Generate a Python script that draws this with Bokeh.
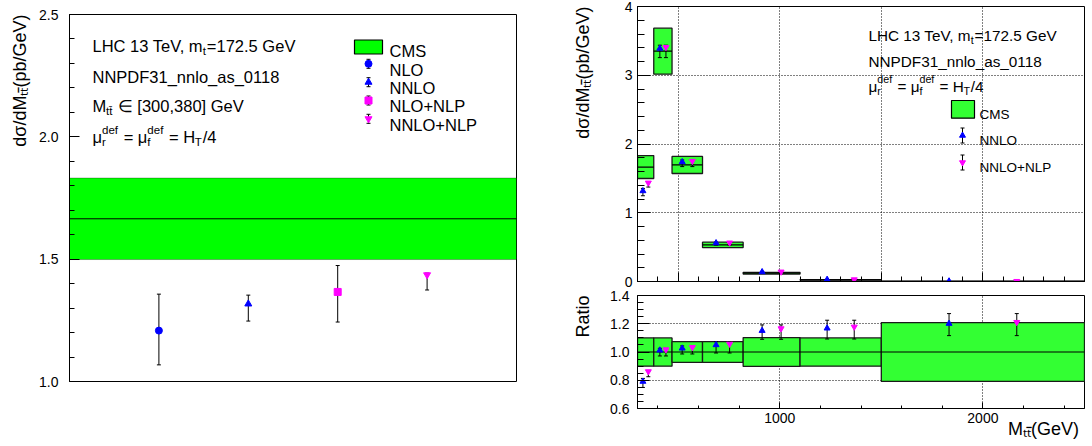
import math
from bokeh.plotting import figure
from bokeh.models import (Range1d, SingleIntervalTicker, FixedTicker, Label, Title,
                          NumeralTickFormatter, Span, BoxAnnotation, CustomJSTickFormatter)
from bokeh.layouts import row, column
from bokeh.embed import file_html
from bokeh.resources import INLINE

FONT = "Liberation Sans"
GREEN_L = "#00ff00"
GREEN_R = "#33ff33"
BLUE = "#0000ff"
MAG = "#ff00ff"
NB = "\u00a0"
TT = "\u209c\u209c\u0304"   # subscript t t-bar

# ---------------- data ----------------
# Left panel: M_tt in [300,380] GeV
left_labels = ["NLO", "NNLO", "NLO+NLP", "NNLO+NLP"]
left_pos = [1, 2, 3, 4]
left_val = [1.208, 1.317, 1.366, 1.436]
left_hi = [1.357, 1.353, 1.474, 1.443]
left_lo = [1.068, 1.247, 1.243, 1.374]
left_markers = ["circle", "triangle", "square", "inverted_triangle"]
left_colors = [BLUE, BLUE, MAG, MAG]

# Right panel: CMS bins
bin_lo = [300, 380, 470, 620, 820, 1100, 1500]
bin_hi = [380, 470, 620, 820, 1100, 1500, 2500]
cms_val = [1.665, 3.35, 1.695, 0.533, 0.121, 0.024, 0.0035]
cms_rel = [0.100, 0.100, 0.073, 0.073, 0.102, 0.100, 0.208]

nnlo_ratio = [0.791, 1.012, 1.026, 1.050, 1.151, 1.168, 1.201]
nnlo_ratio_hi = [0.813, 1.026, 1.043, 1.073, 1.192, 1.225, 1.272]
nnlo_ratio_lo = [0.749, 0.972, 0.986, 0.993, 1.090, 1.092, 1.116]
nnlonlp_ratio = [0.862, 1.017, 1.033, 1.057, 1.166, 1.178, 1.211]
nnlonlp_ratio_hi = [0.867, 1.026, 1.043, 1.073, 1.192, 1.225, 1.272]
nnlonlp_ratio_lo = [0.825, 0.972, 0.986, 0.993, 1.090, 1.092, 1.116]

ratio_xmajor = [1000, 2000]
ratio_xminor = [400, 600, 800, 1200, 1400, 1600, 1800, 2200, 2400]
ratio_ymajor = [0.6, 0.8, 1.0, 1.2, 1.4]
ratio_yminor = [0.65, 0.7, 0.75, 0.85, 0.9, 0.95, 1.05, 1.1, 1.15, 1.25, 1.3, 1.35]

# ---------------- helpers ----------------
W = {' ': 278, NB: 278, '(': 333, ')': 333, ',': 278, '.': 278, '/': 278, '=': 584, '[': 278,
     ']': 278, '_': 556, '+': 584, 'A': 667, 'C': 722, 'D': 722, 'F': 611, 'G': 778,
     'H': 722, 'L': 556, 'M': 833, 'N': 722, 'O': 778, 'P': 667, 'R': 722, 'S': 667,
     'T': 611, 'V': 667, 'a': 556, 'b': 556, 'd': 556, 'e': 556, 'f': 278, 'i': 222,
     'l': 222, 'm': 833, 'n': 556, 'o': 556, 'p': 556, 'r': 333, 's': 500, 't': 278,
     '\u03bc': 576, '\u03c3': 617, '\u2208': 713, '\u0304': 0, '\u209c': 280}
KERN = {"Te": -74, "V,": -111}


def tw(s, size):
    total = sum(W.get(ch, 556) for ch in s)
    total += sum(KERN.get(s[i:i + 2], 0) for i in range(len(s) - 1))
    return total * size / 1000.0


def add_text(p, txt, dx, dy, size, align="left"):
    p.add_layout(Label(x=p.x_range.start, y=p.y_range.end, x_offset=dx, y_offset=-dy,
                       text=txt, text_font=FONT, text_font_size=f"{size:.1f}px",
                       text_color="black", text_align=align, text_baseline="alphabetic"))


def rich(p, x0, base, pieces, size):
    cur = x0
    s = 0.7 * size
    for item in pieces:
        kind = item[0]
        if kind == "n":
            add_text(p, item[1], cur, base, size)
            cur += tw(item[1], size)
        elif kind == "sub":
            add_text(p, item[1], cur - 0.3, base + 0.3 * size, s)
            cur += tw(item[1], s) + 0.5
        else:  # stacked sub + sup
            add_text(p, item[1], cur, base + 0.3 * size, s)
            add_text(p, item[2], cur, base - 0.45 * size, s)
            cur += max(tw(item[1], s), tw(item[2], s)) + 1.0


def px2data(p, fw, fh, dx, dy):
    xr, yr = p.x_range, p.y_range
    return (xr.start + dx * (xr.end - xr.start) / fw,
            yr.end - dy * (yr.end - yr.start) / fh)


def err_bars(p, xs, lo, hi, cap=5):
    xs = list(xs)
    p.segment(x0=xs, x1=xs, y0=list(lo), y1=list(hi), line_color="black", line_width=1)
    p.scatter(x=xs + xs, y=list(lo) + list(hi), marker="dash", size=cap,
              line_color="black", line_width=1)


def style_axis(ax, size=14, standoff=6, tin=10, tmin=5):
    ax.major_tick_in = tin
    ax.major_tick_out = 0
    ax.minor_tick_in = tmin
    ax.minor_tick_out = 0
    ax.major_label_standoff = standoff
    ax.major_label_text_font = FONT
    ax.major_label_text_font_size = f"{size}px"
    ax.major_label_text_color = "black"
    ax.axis_line_color = "black"
    ax.major_tick_line_color = "black"
    ax.minor_tick_line_color = "black"


def ytitle(p, text, standoff, size=18):
    p.add_layout(Title(text=text, align="right", vertical_align="bottom", standoff=standoff,
                       offset=0, text_font=FONT, text_font_size=f"{size}px",
                       text_font_style="normal", text_color="black"), "left")


def base_fig(**kw):
    p = figure(output_backend="svg", toolbar_location=None, **kw)
    p.outline_line_color = "black"
    p.outline_line_width = 1
    p.outline_line_alpha = 1
    p.background_fill_color = "white"
    p.border_fill_color = "white"
    return p


# ---------------- left panel ----------------
p1 = base_fig(width=541, height=446, x_range=Range1d(0, 5), y_range=Range1d(1.0, 2.5),
              min_border_left=69, min_border_right=25, min_border_top=14, min_border_bottom=65)
FW1, FH1 = 447, 367
p1.xaxis.visible = False
p1.xgrid.visible = False
p1.ygrid.visible = False
p1.yaxis.ticker = SingleIntervalTicker(interval=0.5, num_minor_ticks=5)
p1.yaxis.formatter = NumeralTickFormatter(format="0.0")
style_axis(p1.yaxis[0], standoff=11, tin=10, tmin=5)
ytitle(p1, "d\u03c3/dM" + TT + "(pb/GeV)", 13)

c0 = cms_val[0]
p1.add_layout(BoxAnnotation(bottom=c0 * (1 - cms_rel[0]), top=c0 * (1 + cms_rel[0]),
                            fill_color=GREEN_L, fill_alpha=1, line_color="black",
                            line_width=1, level="underlay"))
p1.add_layout(Span(location=c0, dimension="width", line_color="black", line_width=1,
                   level="underlay"))

err_bars(p1, left_pos, left_lo, left_hi, cap=4)
for xv, yv, mk, col in zip(left_pos, left_val, left_markers, left_colors):
    p1.scatter(x=[xv], y=[yv], marker=mk, size=7, fill_color=col, line_color=col)

# texts
rich(p1, 23, 31.9, [("n", "LHC 13 TeV, m"), ("sub", "t"), ("n", "=172.5 GeV")], 16.5)
rich(p1, 23, 62.6, [("n", "NNPDF31_nnlo_as_0118")], 16.5)
rich(p1, 23, 91.9, [("n", "M"), ("sub", "tt\u0304"), ("n", NB + "\u2208 [300,380] GeV")], 16.5)
rich(p1, 23, 122.6, [("n", "\u03bc"), ("ss", "r", "def"), ("n", NB + "=" + NB + "\u03bc"),
                     ("ss", "f", "def"), ("n", NB + "=" + NB + "H"), ("sub", "T"), ("n", "/4")],
     16.5)

# legend (left)
bx0, by0 = px2data(p1, FW1, FH1, 285, 25.5)
bx1, by1 = px2data(p1, FW1, FH1, 313, 39.5)
p1.quad(left=[bx0], right=[bx1], top=[by0], bottom=[by1], fill_color=GREEN_L,
        line_color="black", line_width=1.2)
add_text(p1, "CMS", 320, 31 + 5.9, 16.5)
rows_l = [49.3, 67.7, 86.0, 104.3]
for lab, mk, col, ry in zip(left_labels, left_markers, left_colors, rows_l):
    mx, my = px2data(p1, FW1, FH1, 299, ry)
    _, ylo = px2data(p1, FW1, FH1, 299, ry + 4.5)
    _, yhi = px2data(p1, FW1, FH1, 299, ry - 4.5)
    err_bars(p1, [mx], [ylo], [yhi], cap=4)
    p1.scatter(x=[mx], y=[my], marker=mk, size=7, fill_color=col, line_color=col)
    add_text(p1, lab, 320, ry + 5.9, 16.5)

# ---------------- right top panel ----------------
p2 = base_fig(width=551, height=288, x_range=Range1d(300, 2500), y_range=Range1d(0, 4),
              min_border_left=96, min_border_right=8, min_border_top=6, min_border_bottom=7)
FW2, FH2 = 447, 275
p2.xaxis.ticker = SingleIntervalTicker(interval=500, num_minor_ticks=5)
style_axis(p2.xaxis[0], size=14, standoff=0, tin=9, tmin=5)
p2.xaxis.formatter = CustomJSTickFormatter(code="return ''")
p2.yaxis.ticker = SingleIntervalTicker(interval=1, num_minor_ticks=5)
p2.yaxis.formatter = NumeralTickFormatter(format="0")
style_axis(p2.yaxis[0], standoff=5, tin=13, tmin=7)
ytitle(p2, "d\u03c3/dM" + TT + "(pb/GeV)", 58)
for g in (p2.xgrid[0], p2.ygrid[0]):
    g.grid_line_color = "black"
    g.grid_line_dash = "1 2"
    g.grid_line_width = 1

cms_top = [c * (1 + r) for c, r in zip(cms_val, cms_rel)]
cms_bot = [c * (1 - r) for c, r in zip(cms_val, cms_rel)]
p2.quad(left=bin_lo, right=bin_hi, top=cms_top, bottom=cms_bot, fill_color=GREEN_R,
        line_color="#1a1a1a", line_width=1.3)
p2.segment(x0=bin_lo, x1=bin_hi, y0=cms_val, y1=cms_val, line_color="black", line_width=1.2)

x_nnlo = [lo + (hi - lo) / 3.0 for lo, hi in zip(bin_lo, bin_hi)]
x_nlp = [lo + 2.0 * (hi - lo) / 3.0 for lo, hi in zip(bin_lo, bin_hi)]
nnlo_v = [r * c for r, c in zip(nnlo_ratio, cms_val)]
nnlo_h = [r * c for r, c in zip(nnlo_ratio_hi, cms_val)]
nnlo_l = [r * c for r, c in zip(nnlo_ratio_lo, cms_val)]
nlp_v = [r * c for r, c in zip(nnlonlp_ratio, cms_val)]
nlp_h = [r * c for r, c in zip(nnlonlp_ratio_hi, cms_val)]
nlp_l = [r * c for r, c in zip(nnlonlp_ratio_lo, cms_val)]

err_bars(p2, x_nnlo, nnlo_l, nnlo_h, cap=4)
err_bars(p2, x_nlp, nlp_l, nlp_h, cap=4)
p2.scatter(x=x_nnlo, y=nnlo_v, marker="triangle", size=6, fill_color=BLUE, line_color=BLUE)
p2.scatter(x=x_nlp, y=nlp_v, marker="inverted_triangle", size=6, fill_color=MAG, line_color=MAG)

rich(p2, 231, 28.5, [("n", "LHC 13 TeV, m"), ("sub", "t"), ("n", "=172.5 GeV")], 15.3)
rich(p2, 231, 54.5, [("n", "NNPDF31_nnlo_as_0118")], 15.3)
rich(p2, 231, 79.5, [("n", "\u03bc"), ("ss", "r", "def"), ("n", NB + "=" + NB + "\u03bc"),
                     ("ss", "f", "def"), ("n", NB + "=" + NB + "H"), ("sub", "T"), ("n", "/4")],
     15.3)

# legend (right)
bx0, by0 = px2data(p2, FW2, FH2, 314, 94)
bx1, by1 = px2data(p2, FW2, FH2, 337, 111.7)
p2.quad(left=[bx0], right=[bx1], top=[by0], bottom=[by1], fill_color=GREEN_R,
        line_color="black", line_width=1.2)
add_text(p2, "CMS", 342, 103 + 4.8, 13.5)
for lab, mk, col, ry in zip(["NNLO", "NNLO+NLP"], ["triangle", "inverted_triangle"],
                            [BLUE, MAG], [129, 156]):
    mx, my = px2data(p2, FW2, FH2, 325, ry)
    _, ylo = px2data(p2, FW2, FH2, 325, ry + 7.5)
    _, yhi = px2data(p2, FW2, FH2, 325, ry - 7.5)
    err_bars(p2, [mx], [ylo], [yhi], cap=4)
    p2.scatter(x=[mx], y=[my], marker=mk, size=6, fill_color=col, line_color=col)
    add_text(p2, lab, 342, ry + 4.8, 13.5)

# ---------------- ratio panel ----------------
p3 = base_fig(width=551, height=158, x_range=p2.x_range, y_range=Range1d(0.6, 1.4),
              min_border_left=96, min_border_right=8, min_border_top=7, min_border_bottom=38)
FW3 = 447
p3.xaxis.ticker = FixedTicker(ticks=ratio_xmajor, minor_ticks=ratio_xminor)
p3.xaxis.formatter = NumeralTickFormatter(format="0")
style_axis(p3.xaxis[0], standoff=4, tin=6, tmin=3)
xt = "M" + TT + "(GeV)"
npad = int((FW3 - 4 - tw(xt, 18)) / tw(NB, 18))
ax = p3.xaxis[0]
ax.axis_label = NB * npad + xt
ax.axis_label_text_font = FONT
ax.axis_label_text_font_size = "18px"
ax.axis_label_text_font_style = "normal"
ax.axis_label_text_color = "black"
ax.axis_label_standoff = -7
p3.yaxis.ticker = FixedTicker(ticks=ratio_ymajor, minor_ticks=ratio_yminor)
p3.yaxis.formatter = NumeralTickFormatter(format="0.0")
style_axis(p3.yaxis[0], standoff=8, tin=12, tmin=6)
ytitle(p3, "Ratio", 29)
for g in (p3.xgrid[0], p3.ygrid[0]):
    g.grid_line_color = "black"
    g.grid_line_dash = "1 2"
    g.grid_line_width = 1

ones = [1.0] * len(bin_lo)
p3.quad(left=bin_lo, right=bin_hi, top=[1 + r for r in cms_rel], bottom=[1 - r for r in cms_rel],
        fill_color=GREEN_R, line_color="#1a1a1a", line_width=1.3)
p3.segment(x0=bin_lo, x1=bin_hi, y0=ones, y1=ones, line_color="black", line_width=1.2)
err_bars(p3, x_nnlo, nnlo_ratio_lo, nnlo_ratio_hi, cap=4)
err_bars(p3, x_nlp, nnlonlp_ratio_lo, nnlonlp_ratio_hi, cap=4)
p3.scatter(x=x_nnlo, y=nnlo_ratio, marker="triangle", size=6, fill_color=BLUE, line_color=BLUE)
p3.scatter(x=x_nlp, y=nnlonlp_ratio, marker="inverted_triangle", size=6, fill_color=MAG,
           line_color=MAG)

right = column(p2, p3)
layout = row(p1, right)

open("out.html", "w").write(file_html(layout, INLINE))
